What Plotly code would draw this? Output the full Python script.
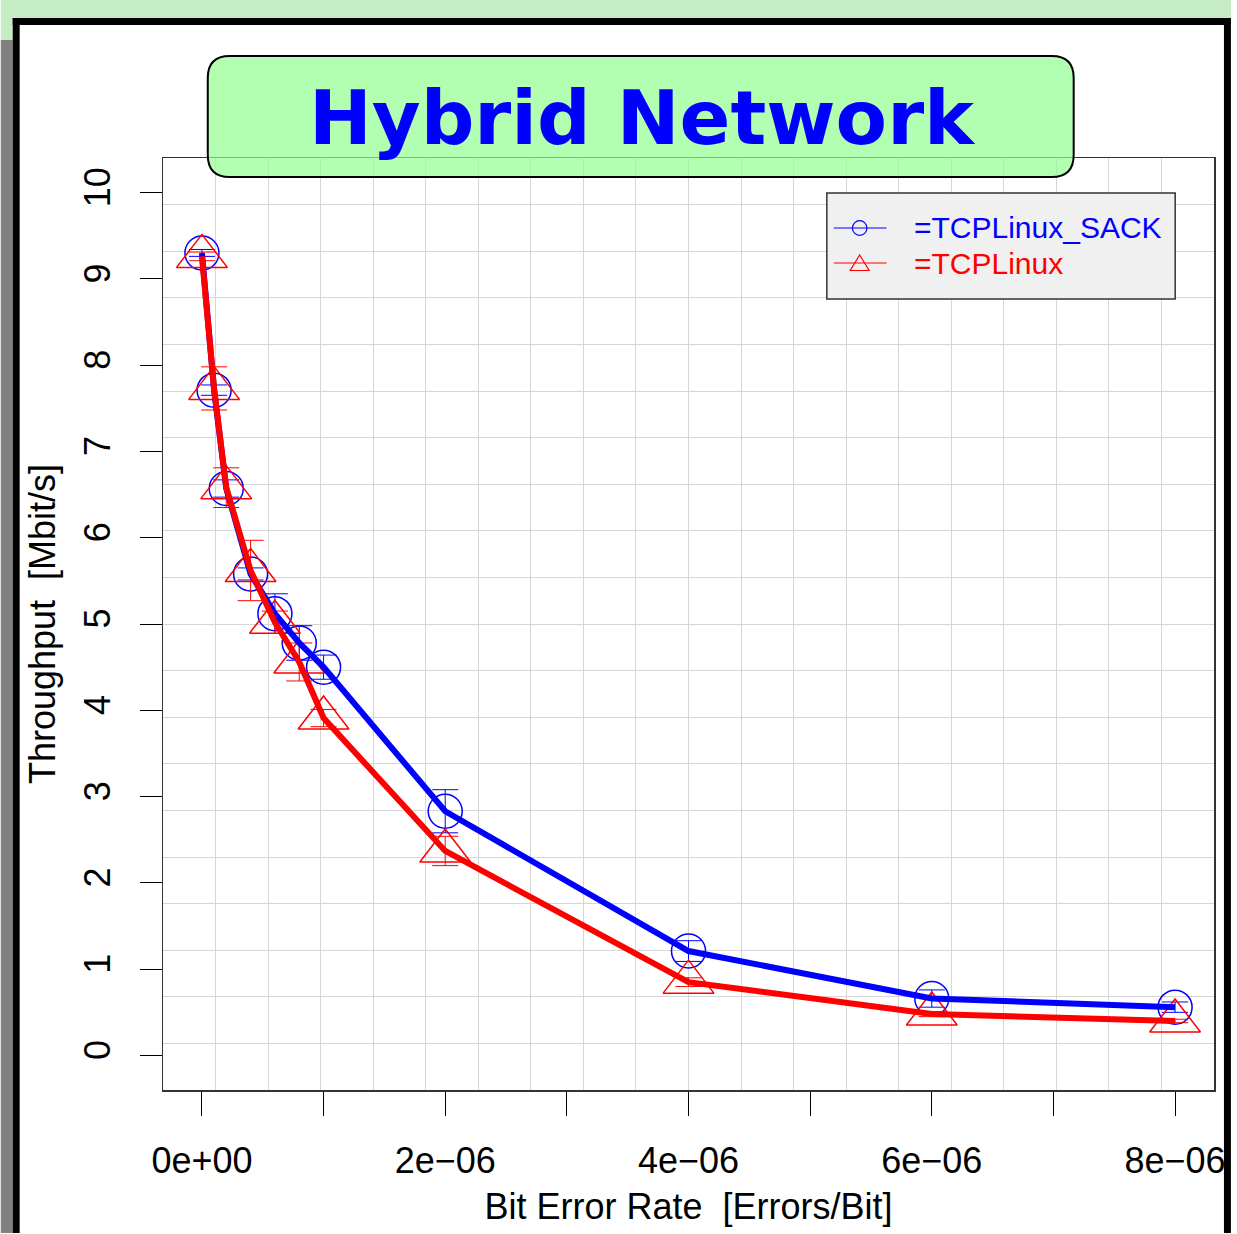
import plotly.graph_objects as go

# ---------------- data ----------------
ber = [0, 1e-7, 2e-7, 4e-7, 6e-7, 8e-7, 1e-6, 2e-6, 4e-6, 6e-6, 8e-6]
sack = [9.30, 7.71, 6.57, 5.58, 5.12, 4.78, 4.50, 2.83, 1.21, 0.66, 0.56]
sack_err = [0.04, 0.06, 0.10, 0.07, 0.23, 0.20, 0.14, 0.25, 0.12, 0.10, 0.06]
linux = [9.26, 7.73, 6.58, 5.62, 5.02, 4.56, 3.91, 2.37, 0.85, 0.48, 0.40]
linux_err = [0.05, 0.25, 0.23, 0.35, 0.13, 0.22, 0.10, 0.17, 0.05, 0.03, 0.02]

x_tick_vals = [0, 1e-6, 2e-6, 3e-6, 4e-6, 5e-6, 6e-6, 7e-6, 8e-6]
x_tick_text = ["0e+00", "", "2e\u221206", "", "4e\u221206", "", "6e\u221206", "", "8e\u221206"]
y_tick_vals = list(range(0, 11))
y_tick_text = [str(v) for v in y_tick_vals]

names = ["=TCPLinux_SACK", "=TCPLinux"]
colors = ["#0000ff", "#ff0000"]
title_text = "Hybrid Network"
x_title = "Bit Error Rate\u00a0 [Errors/Bit]"
y_title = "Throughput\u00a0 [Mbit/s]"

# ---------------- geometry ----------------
W, H = 1237, 1234
L, R, T, B = 163, 18, 158, 144
PW, PH = W - L - R, H - T - B


def px(x):
    return (x - L) / PW


def py(y):
    return 1 - (y - T) / PH


fig = go.Figure()

# markers + error bars
fig.add_trace(go.Scatter(
    x=ber, y=sack, mode="markers", name=names[0],
    marker=dict(symbol="circle-open", size=34, color=colors[0], line=dict(width=1.5, color=colors[0])),
    error_y=dict(type="data", array=sack_err, color=colors[0], thickness=1, width=13),
    showlegend=False))
fig.add_trace(go.Scatter(
    x=ber, y=linux, mode="markers", name=names[1],
    marker=dict(symbol="triangle-up-open", size=44, color=colors[1], line=dict(width=1.5, color=colors[1])),
    error_y=dict(type="data", array=linux_err, color=colors[1], thickness=1, width=13),
    showlegend=False))
# thick lines on top
fig.add_trace(go.Scatter(x=ber, y=sack, mode="lines", line=dict(color=colors[0], width=6),
                         showlegend=False, hoverinfo="skip"))
fig.add_trace(go.Scatter(x=ber, y=linux, mode="lines", line=dict(color=colors[1], width=6),
                         showlegend=False, hoverinfo="skip"))

shapes = []


def rect(x0, y0, x1, y1, color, layer="below"):
    shapes.append(dict(type="rect", xref="paper", yref="paper",
                       x0=px(x0), x1=px(x1), y0=py(y0), y1=py(y1),
                       fillcolor=color, line=dict(width=0), layer=layer))


# page decorations
rect(0, 0, 1236, 18, "#c6ecc4")
rect(0, 18, 12, 40, "#c6ecc4")
rect(0, 40, 12, 1233, "#808080")
rect(12, 18, 19, 1233, "#000000", "above")
rect(12, 18, 1236, 25, "#000000", "above")
rect(1229, 18, 1236, 1233, "#000000", "above")

# title box (rounded)
bx0, bx1, by0, by1, r = 208, 1078, 56, 177, 22
pts = [("M", bx0 + r, by0), ("L", bx1 - r, by0), ("Q", bx1, by0, bx1, by0 + r),
       ("L", bx1, by1 - r), ("Q", bx1, by1, bx1 - r, by1), ("L", bx0 + r, by1),
       ("Q", bx0, by1, bx0, by1 - r), ("L", bx0, by0 + r), ("Q", bx0, by0, bx0 + r, by0)]
path = ""
for p in pts:
    cmd = p[0]
    coords = p[1:]
    segs = []
    for i in range(0, len(coords), 2):
        segs.append(f"{px(coords[i]):.5f},{py(coords[i+1]):.5f}")
    path += cmd + " ".join(segs) + " "
path += "Z"
shapes.append(dict(type="path", xref="paper", yref="paper", path=path,
                   fillcolor="rgba(146,255,146,0.7)", line=dict(color="black", width=2), layer="above"))

# legend box
shapes.append(dict(type="rect", xref="paper", yref="paper",
                   x0=px(830), x1=px(1180), y0=py(193), y1=py(299),
                   fillcolor="#f0f0f0", line=dict(color="#333333", width=1.5), layer="above"))
# legend symbols
for yy, c in [(228, colors[0]), (263, colors[1])]:
    shapes.append(dict(type="line", xref="paper", yref="paper",
                       x0=px(837), x1=px(890), y0=py(yy), y1=py(yy),
                       line=dict(color=c, width=1), layer="above"))
shapes.append(dict(type="circle", xref="paper", yref="paper",
                   x0=px(863 - 7.3), x1=px(863 + 7.3), y0=py(228 - 7.3), y1=py(228 + 7.3),
                   line=dict(color=colors[0], width=1.2), fillcolor="rgba(0,0,0,0)", layer="above"))
shapes.append(dict(type="path", xref="paper", yref="paper",
                   path=f"M{px(863):.5f},{py(255):.5f} L{px(872.5):.5f},{py(270.5):.5f} L{px(853.5):.5f},{py(270.5):.5f} Z",
                   line=dict(color=colors[1], width=1.2), fillcolor="rgba(0,0,0,0)", layer="above"))

annotations = [
    dict(text=f"<b>{title_text}</b>", xref="paper", yref="paper", x=px(644.5), y=py(118),
         xanchor="center", yanchor="middle", showarrow=False,
         font=dict(family="DejaVu Sans", size=75, color="#0000ff")),
    dict(text=names[0], xref="paper", yref="paper", x=px(916), y=py(228),
         xanchor="left", yanchor="middle", showarrow=False,
         font=dict(family="Liberation Sans", size=30, color=colors[0])),
    dict(text=names[1], xref="paper", yref="paper", x=px(916), y=py(263),
         xanchor="left", yanchor="middle", showarrow=False,
         font=dict(family="Liberation Sans", size=30, color=colors[1])),
]

grid_col = "#d6d6d6"
fig.update_layout(
    width=W, height=H, autosize=False,
    margin=dict(l=L, r=R, t=T, b=B, pad=0),
    paper_bgcolor="white", plot_bgcolor="white",
    showlegend=False, dragmode=False,
    font=dict(family="Liberation Sans, Arial, sans-serif", color="black"),
    shapes=shapes, annotations=annotations,
    xaxis=dict(range=[-0.32e-6, 8.32e-6], tickmode="array", tickvals=x_tick_vals, ticktext=x_tick_text,
               ticks="outside", ticklen=24, tickwidth=1, tickcolor="black", ticklabelstandoff=14,
               tickfont=dict(size=36, family="Liberation Sans"), fixedrange=True,
               showgrid=False, zeroline=False, showline=True, mirror=True,
               linecolor="#333333", linewidth=1.5,
               minor=dict(tickmode="linear", tick0=-0.32e-6, dtick=0.432e-6, showgrid=True,
                          gridcolor=grid_col, gridwidth=1, ticks=""),
               title=dict(text=x_title, font=dict(size=36, family="Liberation Sans"), standoff=14)),
    yaxis=dict(range=[-0.4, 10.4], tickmode="array", tickvals=y_tick_vals, ticktext=y_tick_text,
               ticks="outside", ticklen=22, tickwidth=1, tickcolor="black", tickangle=-90,
               ticklabelstandoff=15, fixedrange=True,
               tickfont=dict(size=36, family="Liberation Sans"),
               showgrid=False, zeroline=False, showline=True, mirror=True,
               linecolor="#333333", linewidth=1.5,
               minor=dict(tickmode="linear", tick0=-0.4, dtick=0.54, showgrid=True,
                          gridcolor=grid_col, gridwidth=1, ticks=""),
               title=dict(text=y_title, font=dict(size=36, family="Liberation Sans"), standoff=10)),
)

post = (
    "var d=document.getElementById('{plot_id}');"
    "d.style.overflow='hidden';"
    "document.body.style.margin='0';"
    "document.body.style.overflow='hidden';"
    "document.documentElement.style.overflow='hidden';"
)
fig.write_html("out.html",
               config={"displayModeBar": False, "responsive": False, "staticPlot": True},
               post_script=post)
